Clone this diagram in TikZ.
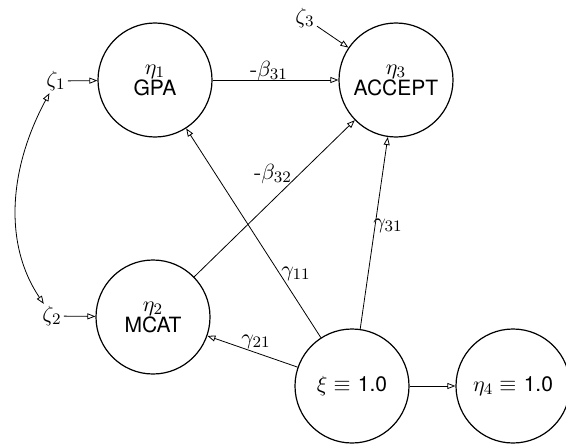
\documentclass[tikz,border=0pt]{standalone}
\usepackage{fontspec}
\setsansfont[Scale=0.96]{TeX Gyre Heros}
\usetikzlibrary{arrows.meta}
\begin{document}
\begin{tikzpicture}[x=0.5pt,y=-0.5pt,
  every node/.style={font=\fontsize{10.95}{10.5}\selectfont},
  var/.style={draw,circle,minimum size=57pt,inner sep=0pt,line width=0.6pt,align=center},
  lab/.style={inner sep=1pt},
  conn/.style={line width=0.4pt,-{Triangle[open,length=4pt,width=3pt]}},
  plain/.style={line width=0.4pt}]
\useasboundingbox (0,0) rectangle (566,444);
\node[var] (gpa) at (155,80) {$\eta_1$\\\sffamily GPA};
\node[var] (acc) at (396,80) {$\eta_3$\\\sffamily ACCEPT};
\node[var] (mcat) at (153,317) {$\eta_2$\\\sffamily MCAT};
\node[var] (xi) at (352,386) {$\xi\equiv$ \sffamily 1.0};
\node[var] (eta4) at (513,386) {$\eta_4\equiv$ \sffamily 1.0};
\node[lab] (z1) at (56,81) {$\zeta_1$};
\node[lab] (z2) at (52,316) {$\zeta_2$};
\node[lab] (z3) at (305,18) {$\zeta_3$};
\node[lab] (b31) at (269,71) {-$\beta_{31}$};
\node[lab] (b32) at (273,174) {-$\beta_{32}$};
\node[lab] (g11) at (296,274) {$\gamma_{11}$};
\node[lab] (g31) at (388,226) {$\gamma_{31}$};
\node[lab] (g21) at (256,342) {$\gamma_{21}$};
\draw[conn] (z1) -- (gpa);
\draw[conn] (z2) -- (mcat);
\draw[conn] (z3) -- (acc);
\draw[conn] (gpa) -- (acc);
\draw[conn] (mcat) -- (acc);
\draw[conn] (xi) -- (gpa);
\draw[conn] (xi) -- (acc);
\draw[conn] (xi) -- (mcat);
\draw[conn] (xi) -- (eta4);
\draw[line width=0.4pt,{Triangle[open,length=4pt,width=3pt]}-{Triangle[open,length=4pt,width=3pt]}]
  (z1) .. controls (8,170) and (4,245) .. (z2);
\end{tikzpicture}
\end{document}
